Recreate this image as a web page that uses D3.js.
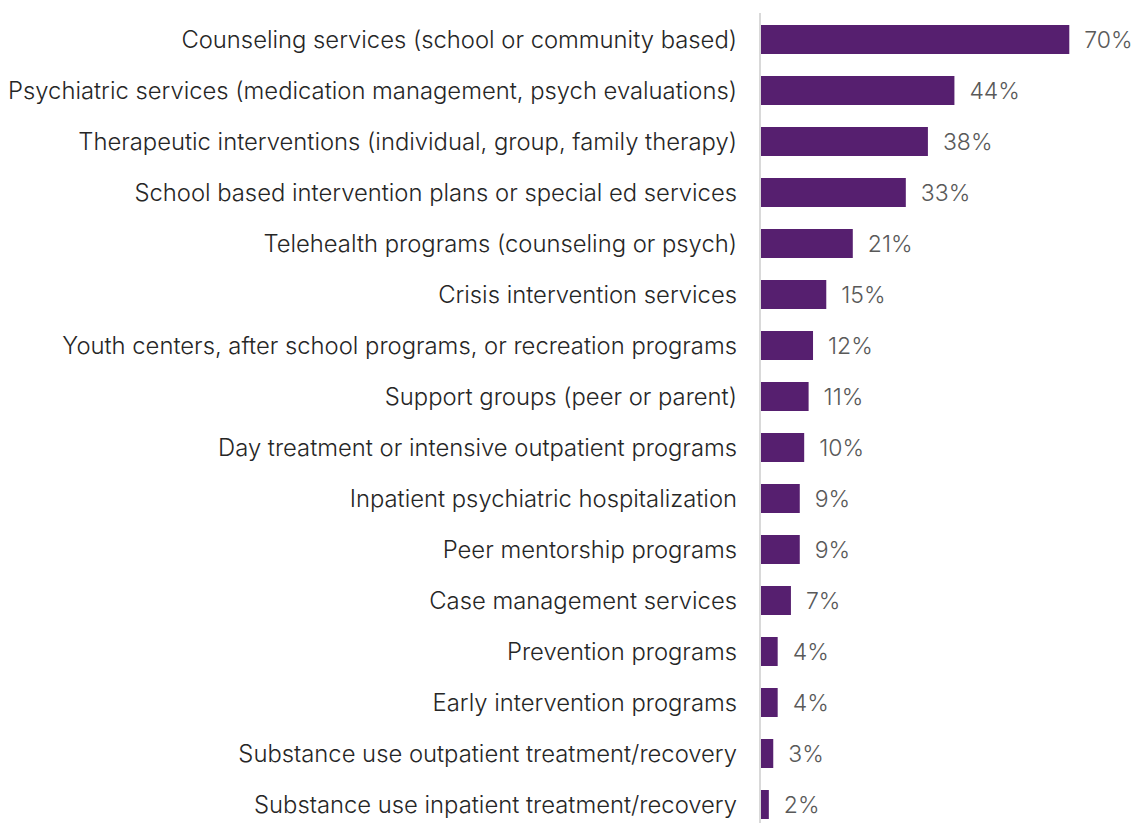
<!DOCTYPE html>
<html>
<head>
<meta charset="utf-8">
<script src="https://cdn.jsdelivr.net/npm/d3@7"></script>
<style>
  html, body { margin: 0; padding: 0; background: #ffffff; }
  svg { display: block; }
</style>
</head>
<body>
<svg id="chart" width="1134" height="823"></svg>
<script>
const categories = [
  "Counseling services (school or community based)",
  "Psychiatric services (medication management, psych evaluations)",
  "Therapeutic interventions (individual, group, family therapy)",
  "School based intervention plans or special ed services",
  "Telehealth programs (counseling or psych)",
  "Crisis intervention services",
  "Youth centers, after school programs, or recreation programs",
  "Support groups (peer or parent)",
  "Day treatment or intensive outpatient programs",
  "Inpatient psychiatric hospitalization",
  "Peer mentorship programs",
  "Case management services",
  "Prevention programs",
  "Early intervention programs",
  "Substance use outpatient treatment/recovery",
  "Substance use inpatient treatment/recovery"
];
const values = [70, 44, 38, 33, 21, 15, 12, 11, 10, 9, 9, 7, 4, 4, 3, 2];

const svg = d3.select("#chart");
const x0 = 760;
const font = "Inter, 'Noto Sans', sans-serif";

const x = d3.scaleLinear().domain([0, 70]).range([x0, 1069.3]);
const y = d3.scaleBand()
  .domain(categories)
  .range([14, 830])
  .paddingInner(22 / 51)
  .paddingOuter(11 / 51);

// bars
svg.append("g")
  .selectAll("rect")
  .data(values)
  .join("rect")
  .attr("x", x(0))
  .attr("y", (d, i) => y(categories[i]))
  .attr("width", d => x(d) - x(0))
  .attr("height", y.bandwidth())
  .attr("fill", "#561f6f");

// vertical axis line
svg.append("line")
  .attr("x1", x0).attr("x2", x0)
  .attr("y1", 13).attr("y2", 823)
  .attr("stroke", "#d9d9d9")
  .attr("stroke-width", 2);

// category labels
svg.append("g")
  .selectAll("text")
  .data(categories)
  .join("text")
  .attr("x", x0 - 23)
  .attr("y", d => y(d) + y.bandwidth() / 2)
  .attr("dy", "0.35em")
  .attr("text-anchor", "end")
  .attr("font-family", font)
  .attr("font-size", 23.8)
  .attr("font-weight", 300)
  .attr("fill", "#262626")
  .text(d => d);

// value labels
svg.append("g")
  .selectAll("text")
  .data(values)
  .join("text")
  .attr("x", d => x(d) + 15)
  .attr("y", (d, i) => y(categories[i]) + y.bandwidth() / 2)
  .attr("dy", "0.35em")
  .attr("font-family", font)
  .attr("font-size", 23)
  .attr("font-weight", 300)
  .attr("fill", "#595959")
  .text(d => d + "%");
</script>
</body>
</html>
